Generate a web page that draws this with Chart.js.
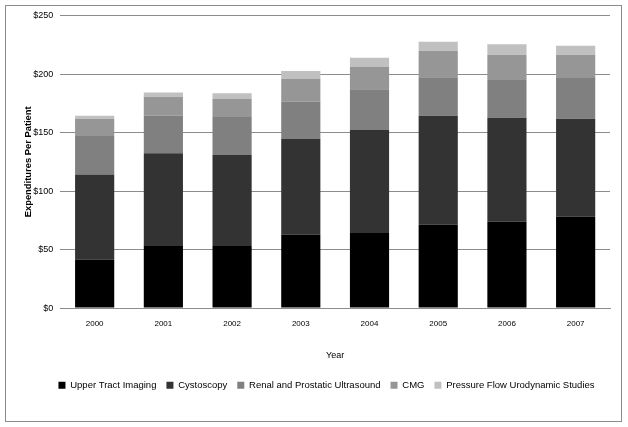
<!DOCTYPE html>
<html>
<head>
<meta charset="utf-8">
<script src="https://cdn.jsdelivr.net/npm/chart.js@4"></script>
<style>
  html, body { margin: 0; padding: 0; background: #fff; }
  .wrap { position: relative; width: 628px; height: 427px; }
  .frame { position: absolute; left: 5px; top: 5px; width: 615px; height: 415px; border: 1px solid #8c8c8c; pointer-events: none; }
  canvas { display: block; }
</style>
</head>
<body>
<div class="wrap">
  <canvas id="chart" width="628" height="427"></canvas>
  <div class="frame"></div>
</div>
<script>
const years = ["2000", "2001", "2002", "2003", "2004", "2005", "2006", "2007"];
const upperTract = [41.6, 53.8, 53, 62.7, 64.1, 71.2, 73.8, 78];
const cystoscopy = [72.6, 78.4, 77.8, 81.7, 88, 93.2, 88.9, 83.8];
const renalUltrasound = [32.8, 32.2, 32.4, 31.9, 34.8, 32.8, 32.2, 34.8];
const cmg = [14.5, 16.2, 15.4, 19.4, 19.1, 22.7, 21.6, 19.9];
const pressureFlow = [2.9, 3.7, 4.9, 6.9, 7.9, 7.7, 8.9, 7.7];

const font = "'Liberation Sans', Arial, sans-serif";
const grid = "#8c8c8c";

function series(label, data, color) {
  return { label, data, backgroundColor: color, borderWidth: 0, categoryPercentage: 0.57, barPercentage: 1 };
}

// legend in the original sits a bit right of the canvas centre
const shiftLegend = {
  id: "shiftLegend",
  afterLayout(chart) {
    chart.legend.left += 10;
    chart.legend.right += 10;
  },
};

new Chart(document.getElementById("chart"), {
  type: "bar",
  data: {
    labels: years,
    datasets: [
      series("Upper Tract Imaging", upperTract, "#000000"),
      series("Cystoscopy", cystoscopy, "#333333"),
      series("Renal and Prostatic Ultrasound", renalUltrasound, "#808080"),
      series("CMG", cmg, "#969696"),
      series("Pressure Flow Urodynamic Studies", pressureFlow, "#c0c0c0"),
    ],
  },
  plugins: [shiftLegend],
  options: {
    responsive: false,
    animation: false,
    layout: { padding: { left: 23, right: 18, top: 15.5, bottom: 27 } },
    plugins: {
      legend: {
        position: "bottom",
        labels: { color: "#000", boxWidth: 7, boxHeight: 7, padding: 10, font: { family: font, size: 9.5 } },
      },
      tooltip: { enabled: false },
    },
    scales: {
      x: {
        stacked: true,
        grid: { display: false, drawTicks: false },
        border: { color: grid },
        ticks: { color: "#000", font: { family: font, size: 8 }, padding: 11 },
        title: { display: true, text: "Year", color: "#000", font: { family: font, size: 9 }, padding: { top: 10, bottom: 10 } },
      },
      y: {
        stacked: true,
        min: 0,
        max: 250,
        border: { display: false },
        grid: { color: grid, drawTicks: false },
        ticks: { stepSize: 50, color: "#000", font: { family: font, size: 9 }, padding: 7, callback: v => "$" + v },
        title: { display: true, text: "Expenditures Per Patient", color: "#000", font: { family: font, size: 9.4, weight: "bold" }, padding: { top: 0, bottom: -8 } },
      },
    },
  },
});
</script>
</body>
</html>
